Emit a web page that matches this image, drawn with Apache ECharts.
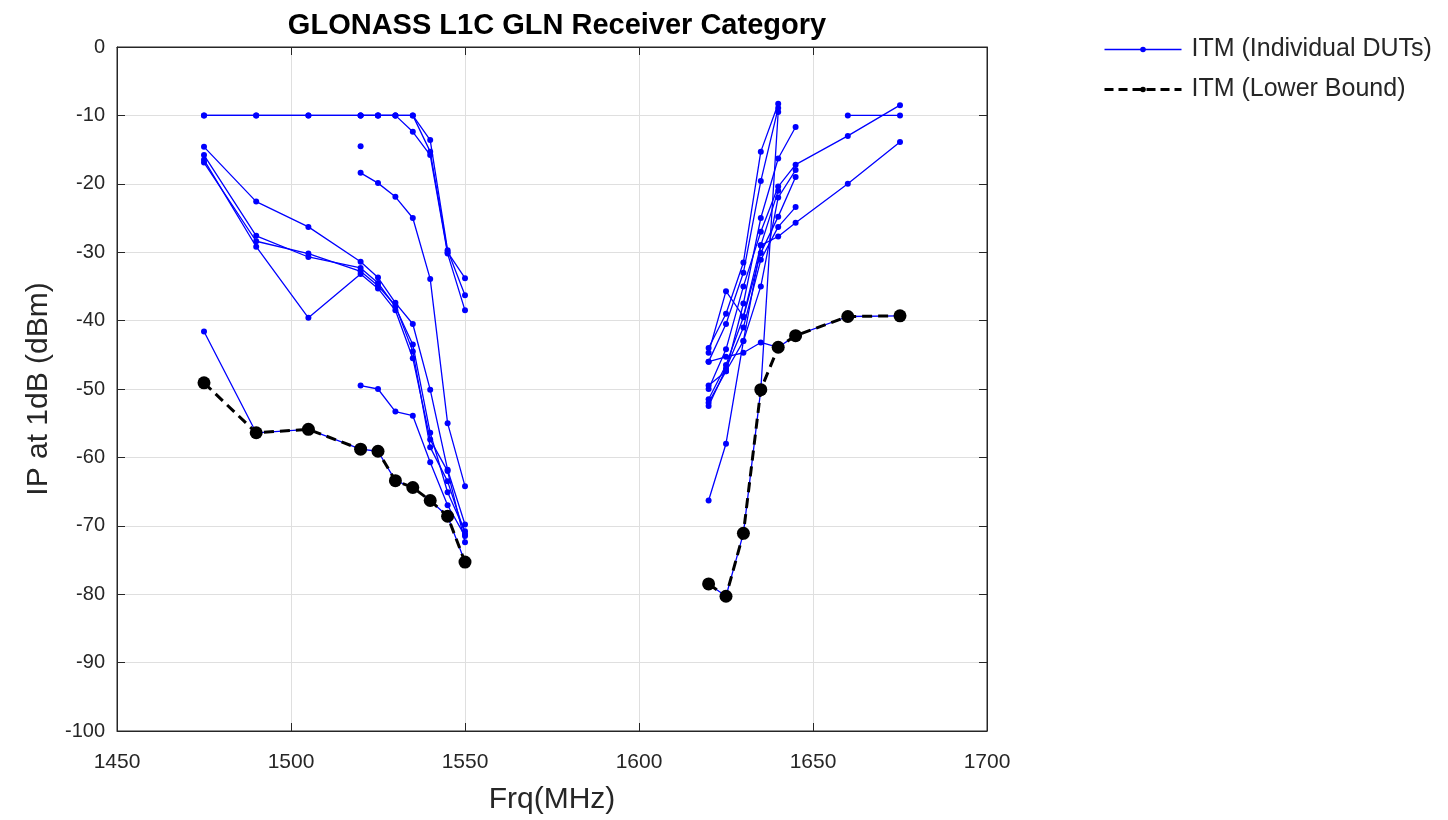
<!DOCTYPE html>
<html>
<head>
<meta charset="utf-8">
<script src="https://cdn.jsdelivr.net/npm/echarts@6/dist/echarts.min.js"></script>
<style>
html,body{margin:0;padding:0;background:#fff;}
#chart{width:1448px;height:820px;}
</style>
</head>
<body>
<div id="chart"></div>
<script>
// Frequencies (MHz) at which the DUTs were measured
const freqs = [1475,1490,1505,1520,1525,1530,1535,1540,1545,1550, 1620,1625,1630,1635,1640,1645,1660,1675];
// IP at 1dB (dBm) per individual DUT; null = not measured
const dut1  = [-10,-10,-10,-10,-10,-10,-10,-15.3,-30.0,-33.8, -44.0,-39.0,-31.5,-15.3,-8.3,null,null,null];
const dut2  = [-10,-10,-10,-10,-10,-10,-10,-13.6,-29.7,-36.3, -46.0,-40.5,-33.0,-19.6,-8.9,null,-10.0,-10.0];
const dut3  = [null,null,null,-10,-10,-10,-12.4,-15.8,-30.2,-38.5, -49.5,-47.4,-37.5,-25.0,-16.3,-11.7,null,null];
const dut4  = [null,null,null,-14.5,null,null,null,null,null,null, -50.0,-44.2,-35.0,-27.0,-20.4,-17.2,-13.0,-8.5];
const dut5  = [null,null,null,-18.4,-19.9,-21.9,-25.0,-33.9,-55.0,-64.2, -51.5,-46.5,-39.5,-30.1,-24.8,-19.0,null,null];
const dut6  = [-14.6,-22.6,-26.3,-31.4,-33.7,-37.4,-40.5,-50.1,-61.8,-69.8, -52.5,-47.0,-41.0,-31.1,-26.3,-23.4,null,null];
const dut7  = [-15.8,-27.6,-30.7,-32.3,-34.5,-38.0,-43.5,-56.4,-65.1,-70.8, -66.3,-58.0,-43.0,-29.0,-27.7,-25.7,-20.0,-13.9];
const dut8  = [-16.5,-29.2,-39.6,-33.2,-35.3,-38.5,-45.5,-57.4,-62.0,-72.4, -44.7,-35.7,-39.4,-29.0,-21.0,null,null,null];
const dut9  = [-16.9,-28.4,-30.2,-32.8,-34.9,-37.8,-44.5,-58.5,-63.5,-71.2, -46.0,-45.3,-44.7,-43.2,-43.9,-42.2,-39.4,-39.3];
const dut10 = [null,null,null,-49.5,-50.0,-53.3,-53.9,-60.7,-67.0,-71.5, -52.0,-47.4,-43.0,-35.0,-22.0,-18.0,null,null];
const dut11 = [-41.6,-56.4,-55.9,-58.8,-59.1,-63.4,-64.4,-66.3,-68.6,-75.3, -78.5,-80.3,-71.1,-50.1,-9.5,null,null,null];
const duts = [dut1,dut2,dut3,dut4,dut5,dut6,dut7,dut8,dut9,dut10,dut11];
// Lower bound across DUTs
const lowerBound = [-49.1,-56.4,-55.9,-58.8,-59.1,-63.4,-64.4,-66.3,-68.6,-75.3, -78.5,-80.3,-71.1,-50.1,-43.9,-42.2,-39.4,-39.3];
// Axis ticks
const xTicks = {min:1450, max:1700, interval:50};
const yTicks = {min:-100, max:0, interval:10};
// the measurement gap: no data between the two bands
const gapFreq = 1585;

const FONT = '"Liberation Sans", Arial, Helvetica, sans-serif';
const TXT = '#262626';

function toPairs(xs, ys){
  const out = [];
  xs.forEach((x,i)=>{
    if (i>0 && xs[i-1] < gapFreq && x > gapFreq) out.push([gapFreq,'-']);
    out.push([x, ys[i]===null ? '-' : ys[i]]);
  });
  return out;
}

const series = duts.map(d => ({
  name: 'ITM (Individual DUTs)',
  type: 'line',
  data: toPairs(freqs, d),
  symbol: 'circle',
  symbolSize: 6,
  showSymbol: true,
  connectNulls: false,
  lineStyle: {color:'#0000ff', width:1.3},
  itemStyle: {color:'#0000ff'},
  z: 2,
  animation: false
}));
series.push({
  name: 'ITM (Lower Bound)',
  type: 'line',
  data: toPairs(freqs, lowerBound),
  symbol: 'circle',
  symbolSize: 13,
  showSymbol: true,
  connectNulls: false,
  lineStyle: {color:'#000000', width:3, type:[10,6]},
  itemStyle: {color:'#000000'},
  z: 5,
  animation: false
});

const chart = echarts.init(document.getElementById('chart'), null, {renderer:'canvas'});
chart.setOption({
  backgroundColor: '#ffffff',
  animation: false,
  title: {
    text: 'GLONASS L1C GLN Receiver Category',
    left: 552, top: 6, textAlign: 'center',
    textStyle: {fontFamily: FONT, fontSize: 29, fontWeight: 'bold', color: '#000'}
  },
  legend: {
    orient: 'vertical',
    left: 1103, top: 37, padding: 0,
    itemWidth: 77, itemHeight: 7, itemGap: 15,
    data: [
      {name:'ITM (Individual DUTs)', itemStyle:{color:'#0000ff'}, lineStyle:{color:'#0000ff', width:1.5}},
      {name:'ITM (Lower Bound)', itemStyle:{color:'#000'}, lineStyle:{color:'#000', width:3, type:[9,5]}}
    ],
    textStyle: {fontFamily: FONT, fontSize: 25, color: TXT, padding:[0,0,0,5]}
  },
  grid: {left:117, right:1448-987, top:47, bottom:820-732, containLabel:false,
         show:true, borderColor:TXT, borderWidth:1},
  xAxis: [{
    type:'value', min:xTicks.min, max:xTicks.max, interval:xTicks.interval,
    name:'Frq(MHz)', nameLocation:'middle', nameGap:54,
    nameTextStyle:{fontFamily:FONT, fontSize:30, color:TXT},
    axisLine:{show:true, onZero:false, lineStyle:{color:TXT, width:1}},
    axisTick:{show:true, inside:true, length:8, lineStyle:{color:TXT}},
    axisLabel:{fontFamily:FONT, fontSize:21, color:TXT, margin:21, formatter: v => String(v)},
    splitLine:{show:true, lineStyle:{color:'#dfdfdf', width:1}}
  },{
    type:'value', position:'top', min:xTicks.min, max:xTicks.max, interval:xTicks.interval,
    axisLine:{show:true, onZero:false, lineStyle:{color:TXT, width:1}},
    axisTick:{show:true, inside:true, length:8, lineStyle:{color:TXT}},
    axisLabel:{show:false}, splitLine:{show:false}
  }],
  yAxis: [{
    type:'value', min:yTicks.min, max:yTicks.max, interval:yTicks.interval,
    name:'IP at 1dB (dBm)', nameLocation:'middle', nameGap:62, nameRotate:90,
    nameTextStyle:{fontFamily:FONT, fontSize:30, color:TXT},
    axisLine:{show:true, onZero:false, lineStyle:{color:TXT, width:1}},
    axisTick:{show:true, inside:true, length:8, lineStyle:{color:TXT}},
    axisLabel:{fontFamily:FONT, fontSize:20, color:TXT, margin:12, formatter: v => String(v)},
    splitLine:{show:true, lineStyle:{color:'#dfdfdf', width:1}}
  },{
    type:'value', position:'right', min:yTicks.min, max:yTicks.max, interval:yTicks.interval,
    axisLine:{show:true, onZero:false, lineStyle:{color:TXT, width:1}},
    axisTick:{show:true, inside:true, length:8, lineStyle:{color:TXT}},
    axisLabel:{show:false}, splitLine:{show:false}
  }],
  series: series
});
</script>
</body>
</html>
